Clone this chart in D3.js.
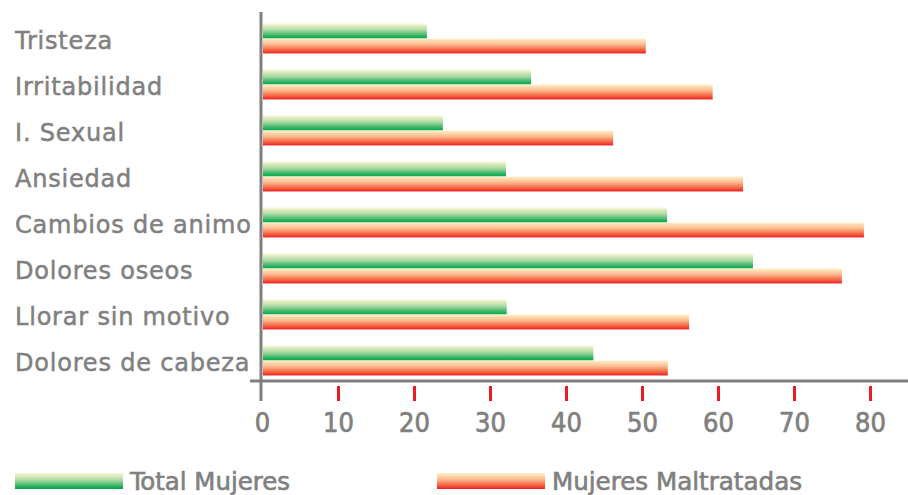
<!DOCTYPE html>
<html>
<head>
<meta charset="utf-8">
<script src="https://cdn.jsdelivr.net/npm/d3@7/dist/d3.min.js"></script>
<style>
  html, body { margin: 0; padding: 0; background: #fff; }
  svg { display: block; }
</style>
</head>
<body>
<svg id="chart" width="908" height="495"></svg>
<script>
const categories = ["Tristeza", "Irritabilidad", "I. Sexual", "Ansiedad", "Cambios de animo", "Dolores oseos", "Llorar sin motivo", "Dolores de cabeza"];
const totalMujeres = [21.7, 35.4, 23.8, 32.1, 53.3, 64.6, 32.2, 43.6];
const mujeresMaltratadas = [50.5, 59.3, 46.2, 63.3, 79.2, 76.3, 56.2, 53.4];
const tickValues = [0, 10, 20, 30, 40, 50, 60, 70, 80];
const seriesNames = ["Total Mujeres", "Mujeres Maltratadas"];

const svg = d3.select("#chart");
const gray = "#808080";
const red = "#ed1c24";

const defs = svg.append("defs");
function grad(id, stops) {
  const g = defs.append("linearGradient").attr("id", id)
    .attr("x1", 0).attr("y1", 0).attr("x2", 0).attr("y2", 1);
  stops.forEach(s => g.append("stop").attr("offset", s[0]).attr("stop-color", s[1]));
}
grad("gGreen", [["0%", "#fbf7d4"], ["45%", "#a9d9a1"], ["85%", "#27b05c"], ["100%", "#00a651"]]);
grad("gRed", [["0%", "#fff2c8"], ["40%", "#fbb88e"], ["80%", "#f25a3a"], ["100%", "#ed1c24"]]);

const x = d3.scaleLinear().domain([0, 80]).range([262, 870]);
const y = d3.scaleBand().domain(categories).range([15.5, 383.5]).paddingInner(0.35).paddingOuter(0.175);
const sub = d3.scaleBand().domain(seriesNames).range([0, y.bandwidth()]);

const data = categories.map((c, i) => ({ c, vals: [totalMujeres[i], mujeresMaltratadas[i]] }));

const groups = svg.append("g").selectAll("g").data(data).join("g")
  .attr("transform", d => `translate(0,${y(d.c)})`);
groups.selectAll("rect").data(d => d.vals.map((v, j) => ({ v, s: seriesNames[j], j })))
  .join("rect")
  .attr("x", x(0) + 1)
  .attr("y", d => sub(d.s))
  .attr("width", d => x(d.v) - x(0) - 1)
  .attr("height", sub.bandwidth())
  .attr("fill", d => d.j === 0 ? "url(#gGreen)" : "url(#gRed)");

// category labels
svg.append("g").selectAll("text").data(categories).join("text")
  .attr("x", 15)
  .attr("y", d => y(d) + y.bandwidth() / 2 + 10)
  .attr("fill", gray)
  .attr("stroke", gray)
  .attr("stroke-width", 0.5)
  .attr("letter-spacing", 0.8)
  .attr("font-family", "'DejaVu Sans', sans-serif")
  .attr("font-size", 24)
  .text(d => d);

// x axis
const axis = d3.axisBottom(x).tickValues(tickValues).tickSize(0).tickPadding(0);
const ax = svg.append("g").attr("transform", "translate(0,381)").call(axis);
ax.select(".domain").remove();
ax.selectAll(".tick text")
  .attr("y", 51)
  .attr("dy", null)
  .attr("fill", gray)
  .attr("stroke", gray)
  .attr("stroke-width", 0.7)
  .attr("font-family", "'DejaVu Sans Condensed', 'DejaVu Sans', sans-serif")
  .attr("font-stretch", "condensed")
  .attr("font-size", 27);
ax.selectAll(".tick").filter(d => d !== 0).append("line")
  .attr("y1", 5).attr("y2", 20)
  .attr("stroke", red).attr("stroke-width", 3);

// axis lines
svg.append("line").attr("x1", 250).attr("x2", 908).attr("y1", 381).attr("y2", 381)
  .attr("stroke", gray).attr("stroke-width", 3);
svg.append("line").attr("x1", x(0) - 1).attr("x2", x(0) - 1).attr("y1", 12).attr("y2", 401)
  .attr("stroke", gray).attr("stroke-width", 3);

// legend
const legendX = [15, 437];
const legendW = [160, 250];
const lg = svg.append("g").selectAll("g").data(seriesNames).join("g")
  .attr("transform", (d, i) => `translate(${legendX[i]},0)`);
lg.append("rect").attr("x", 0).attr("y", 473).attr("width", 108).attr("height", 16)
  .attr("fill", (d, i) => i === 0 ? "url(#gGreen)" : "url(#gRed)");
lg.append("text").attr("x", 115).attr("y", 490)
  .attr("fill", gray)
  .attr("stroke", gray)
  .attr("stroke-width", 0.6)
  .attr("font-family", "'DejaVu Sans Condensed', 'DejaVu Sans', sans-serif")
  .attr("font-stretch", "condensed")
  .attr("font-size", 25)
  .attr("textLength", (d, i) => legendW[i])
  .attr("lengthAdjust", "spacingAndGlyphs")
  .text(d => d);
</script>
</body>
</html>
